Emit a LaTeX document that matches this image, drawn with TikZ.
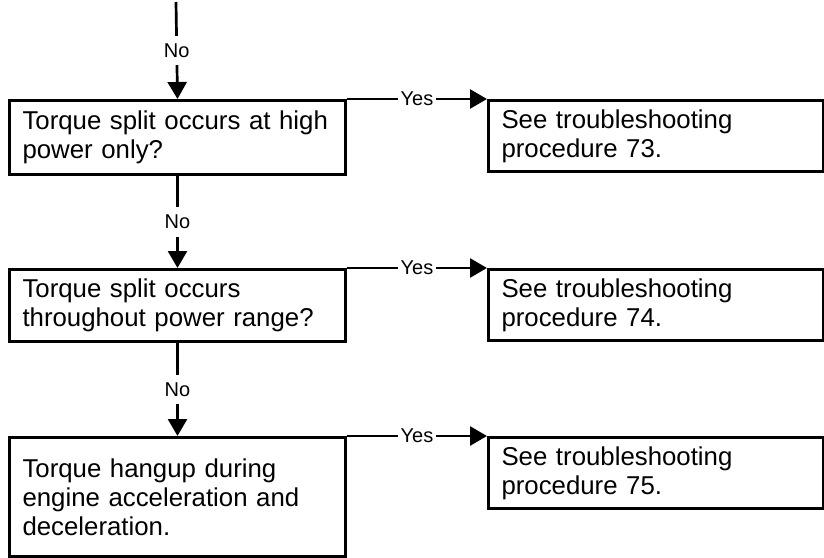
\documentclass[tikz,border=0pt]{standalone}
\usepackage{fontspec}
\setmainfont{Liberation Sans}
\usetikzlibrary{arrows.meta}
\tikzset{
  query/.style  = {rectangle, draw, line width=1.5pt, anchor=north west, align=left,
                   text width=155pt, minimum width=168pt, inner xsep=6.5pt, inner ysep=0pt,
                   font=\fontsize{12.9pt}{14.5pt}\selectfont},
  answer/.style = {query, text width=154.5pt, minimum width=167.5pt, minimum height=35.5pt},
  arrow/.style  = {line width=1.35pt, -{Triangle[length=8.5pt,width=9.5pt]}},
  tag/.style    = {fill=white, inner xsep=1.5pt, inner ysep=4pt,
                   font=\fontsize{10pt}{12pt}\selectfont},
}

\begin{document}
\begin{tikzpicture}[x=0.5pt, y=-0.5pt]
    \useasboundingbox (0,0) rectangle (824,557);

    %% Questions
    \node[query, minimum height=37pt]   (q1) at (8,99)  {Torque split occurs at high\\power only?};
    \node[query, minimum height=36pt]   (q2) at (8,268) {Torque split occurs\\throughout power range?};
    \node[query, minimum height=59.5pt] (q3) at (8,436) {Torque hangup during\\engine acceleration and\\deceleration.};

    %% Procedures
    \node[answer] (p73) at (487,99)  {See troubleshooting\\procedure 73.};
    \node[answer] (p74) at (487,268) {See troubleshooting\\procedure 74.};
    \node[answer] (p75) at (487,436) {See troubleshooting\\procedure 75.};

    \coordinate (in) at (176,2);

    %% No path
    \draw[arrow] (in)      -- node[tag]{No} (q1.north);
    \draw[arrow] (q1.south) -- node[tag]{No} (q2.north);
    \draw[arrow] (q2.south) -- node[tag]{No} (q3.north);

    %% Yes path
    \draw[arrow] (q1.north east) -- node[tag]{Yes} (p73.north west);
    \draw[arrow] (q2.north east) -- node[tag]{Yes} (p74.north west);
    \draw[arrow] (q3.north east) -- node[tag]{Yes} (p75.north west);

\end{tikzpicture}
\end{document}
